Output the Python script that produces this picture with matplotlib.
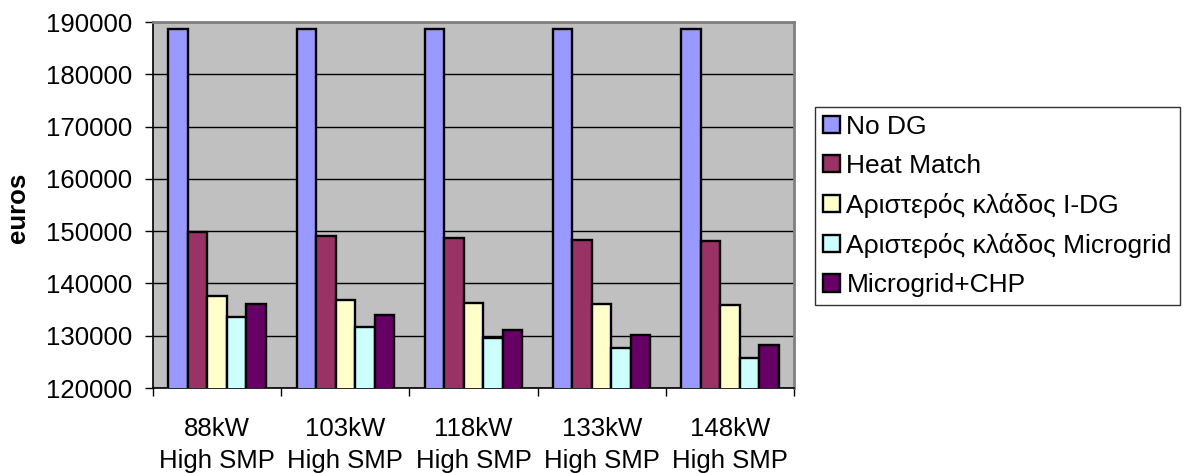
import numpy as np
import matplotlib
matplotlib.use('Agg')
import matplotlib.pyplot as plt

plt.rcParams['font.family'] = ['Liberation Sans', 'DejaVu Sans']

# dados
categorias = ['88kW\nHigh SMP', '103kW\nHigh SMP', '118kW\nHigh SMP', '133kW\nHigh SMP', '148kW\nHigh SMP']
series = ['No DG', 'Heat Match', 'Αριστερός κλάδος I-DG', 'Αριστερός κλάδος Microgrid', 'Microgrid+CHP']
no_dg = [188700, 188700, 188700, 188700, 188700]
heat_match = [149900, 149100, 148600, 148400, 148100]
idg = [137600, 136800, 136300, 136100, 135800]
microgrid = [133600, 131700, 129600, 127700, 125800]
microgrid_chp = [136000, 134000, 131000, 130100, 128200]
cores = ['#9999FF', '#993366', '#FFFFCC', '#CCFFFF', '#660066']

valores = [no_dg, heat_match, idg, microgrid, microgrid_chp]

fig = plt.figure(figsize=(11.91, 4.73), dpi=100)
ax = fig.add_axes([153 / 1191, 1 - 388 / 473, (794 - 153) / 1191, (388 - 22) / 473])
ax.set_facecolor('#C0C0C0')

x = np.arange(len(categorias))
largura = 0.152
for i, (nome, vals) in enumerate(zip(series, valores)):
    ax.bar(x + (i - 2) * largura, vals, largura, color=cores[i], edgecolor='black',
           linewidth=1.7, label=nome, zorder=3)

ax.set_ylim(120000, 190000)
ax.set_yticks(np.arange(120000, 190001, 10000))
ax.yaxis.grid(True, color='black', linewidth=1, zorder=1)
ax.set_xlim(-0.5, len(categorias) - 0.5)

# ticks nas divisões, rótulos no centro
ax.set_xticks(np.arange(-0.5, len(categorias), 1))
ax.set_xticklabels([])
ax.set_xticks(x, minor=True)
ax.set_xticklabels(categorias, minor=True, fontsize=18.5, linespacing=1.42)
ax.tick_params(axis='x', which='minor', length=0, pad=21)
ax.tick_params(axis='x', which='major', length=5.8, width=1, color='black')
ax.tick_params(axis='y', length=5.8, width=1, labelsize=18.5, pad=9.5)

for s in ['top', 'right']:
    ax.spines[s].set_color('#808080')
    ax.spines[s].set_linewidth(2)
for s in ['left', 'bottom']:
    ax.spines[s].set_color('black')
    ax.spines[s].set_linewidth(1.2)

fig.text(18 / 1191, 1 - 208 / 473, 'euros', rotation=90, fontsize=18.5, fontweight='bold',
         ha='center', va='center')

leg = fig.legend(loc='upper left', bbox_to_anchor=(815 / 1191, 1 - 107 / 473), fontsize=19,
                 frameon=True, fancybox=False, handlelength=0.64, handleheight=0.64,
                 handletextpad=0.25, labelspacing=0.57, borderpad=0.3, borderaxespad=0)
leg.get_frame().set_edgecolor('black')
leg.get_frame().set_linewidth(1)
for h in leg.legend_handles:
    h.set_linewidth(1.7)

fig.savefig('out.png', dpi=100)
